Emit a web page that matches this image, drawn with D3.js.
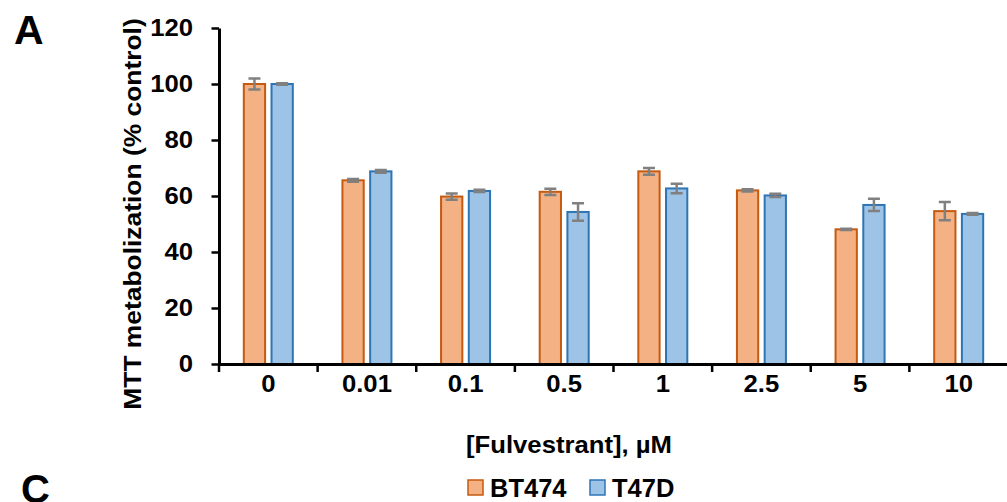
<!DOCTYPE html>
<html>
<head>
<meta charset="utf-8">
<script src="https://cdn.jsdelivr.net/npm/d3@7"></script>
<style>
  body { margin: 0; background: #fff; }
  svg { display: block; }
  text { font-family: "Liberation Sans", Arial, Helvetica, sans-serif; font-weight: bold; fill: #000; }
</style>
</head>
<body>
<svg id="chart" width="1007" height="502"></svg>
<script>
// concentrations of fulvestrant (uM)
var categories = ["0", "0.01", "0.1", "0.5", "1", "2.5", "5", "10"];
var seriesNames = ["BT474", "T47D"];

// MTT metabolization, % of control
var bt474 = [100, 65.6, 59.8, 61.5, 68.8, 62.0, 48.1, 54.6];
var bt474Err = [2.0, 0.5, 1.1, 1.1, 1.2, 0.4, 0.2, 3.3];
var t47d = [100, 68.8, 61.8, 54.3, 62.7, 60.2, 56.8, 53.6];
var t47dErr = [0.3, 0.5, 0.4, 3.1, 1.7, 0.6, 2.2, 0.3];

var yTicks = [0, 20, 40, 60, 80, 100, 120];

var fills = { "BT474": "#F4B183", "T47D": "#9DC3E6" };
var strokes = { "BT474": "#C55A11", "T47D": "#2E75B6" };

function drawChart() {
    let chart = d3.select("#chart");

    let x = d3.scaleBand()
        .domain(categories)
        .range([219, 1008]);

    let y = d3.scaleLinear()
        .domain([0, 120])
        .range([364, 28]);

    let inner = d3.scaleBand()
        .domain(seriesNames)
        .range([-25.5, 25.5])
        .paddingInner(0.16);

    let rows = [];
    categories.forEach((c, i) => {
        rows.push({ cat: c, series: "BT474", value: bt474[i], err: bt474Err[i] });
        rows.push({ cat: c, series: "T47D", value: t47d[i], err: t47dErr[i] });
    });

    // stretch text a little along its baseline, the original font runs wider than Arial
    function widen(sel, sx) {
        sel.each(function () {
            let t = d3.select(this);
            let tx = +t.attr("x") || 0, ty = +t.attr("y") || 0;
            t.attr("x", 0).attr("y", 0)
                .attr("transform", "translate(" + tx + "," + ty + ") scale(" + sx + ",1)");
        });
    }

    // bars
    let barCenter = d => x(d.cat) + x.bandwidth() / 2 + inner(d.series) + inner.bandwidth() / 2;

    chart.append("g").selectAll("rect")
        .data(rows)
        .enter().append("rect")
        .attr("x", d => x(d.cat) + x.bandwidth() / 2 + inner(d.series) + 1)
        .attr("y", d => y(d.value))
        .attr("width", inner.bandwidth() - 2)
        .attr("height", d => y(0) - y(d.value))
        .style("fill", d => fills[d.series])
        .style("stroke", d => strokes[d.series])
        .style("stroke-width", "2px");

    // error bars
    let errs = chart.append("g")
        .style("stroke", "#808080")
        .style("stroke-width", "2.5px")
        .style("fill", "none");

    errs.selectAll("path")
        .data(rows)
        .enter().append("path")
        .attr("d", d => {
            let cx = barCenter(d), hi = y(d.value + d.err), lo = y(d.value - d.err);
            return "M" + (cx - 6) + "," + hi + "H" + (cx + 6) +
                "M" + cx + "," + hi + "V" + lo +
                "M" + (cx - 6) + "," + lo + "H" + (cx + 6);
        });

    // y axis
    let yAxis = chart.append("g")
        .attr("transform", "translate(219,0)")
        .call(d3.axisLeft(y).tickValues(yTicks).tickSize(7.5).tickPadding(18.5).tickSizeOuter(0));
    yAxis.select(".domain").style("stroke", "#000").style("stroke-width", "3px");
    yAxis.selectAll(".tick line").style("stroke", "#000").style("stroke-width", "2.5px");
    yAxis.selectAll("text").style("font-size", "24px").style("fill", "#000");
    widen(yAxis.selectAll("text"), 1.07);

    // x axis
    let xAxis = chart.append("g")
        .attr("transform", "translate(0,364)")
        .call(d3.axisBottom(x).tickSize(0).tickPadding(11).tickSizeOuter(0));
    xAxis.select(".domain").style("stroke", "#000").style("stroke-width", "3px");
    xAxis.selectAll("text").style("font-size", "24px").style("fill", "#000");
    widen(xAxis.selectAll("text"), 1.07);

    // category separators below the x axis
    xAxis.selectAll(".sep")
        .data(categories)
        .enter().append("line")
        .attr("class", "sep")
        .attr("x1", d => x(d))
        .attr("x2", d => x(d))
        .attr("y1", 0)
        .attr("y2", 8)
        .style("stroke", "#000")
        .style("stroke-width", "2.5px");

    // axis titles
    chart.append("text")
        .attr("transform", "translate(141,214) rotate(-90) scale(1.1,1)")
        .attr("text-anchor", "middle")
        .style("font-size", "24px")
        .text("MTT metabolization (% control)");

    chart.append("text")
        .attr("transform", "translate(569,453) scale(1.07,1)")
        .attr("text-anchor", "middle")
        .style("font-size", "24px")
        .text("[Fulvestrant], \u00b5M");

    // legend
    let legendX = { "BT474": 468, "T47D": 590 };
    let legend = chart.append("g").selectAll("g")
        .data(seriesNames)
        .enter().append("g")
        .attr("transform", d => "translate(" + legendX[d] + ",480)");
    legend.append("rect")
        .attr("width", 15)
        .attr("height", 15)
        .style("fill", d => fills[d])
        .style("stroke", d => strokes[d])
        .style("stroke-width", "1.5px");
    legend.append("text")
        .attr("x", 22)
        .attr("y", 17)
        .style("font-size", "25.5px")
        .text(d => d);

    // panel letters
    chart.append("text")
        .attr("x", 14)
        .attr("y", 44)
        .style("font-size", "41px")
        .text("A");

    chart.append("text")
        .attr("x", 21)
        .attr("y", 503)
        .style("font-size", "40px")
        .text("C");
}

drawChart();
</script>
</body>
</html>
